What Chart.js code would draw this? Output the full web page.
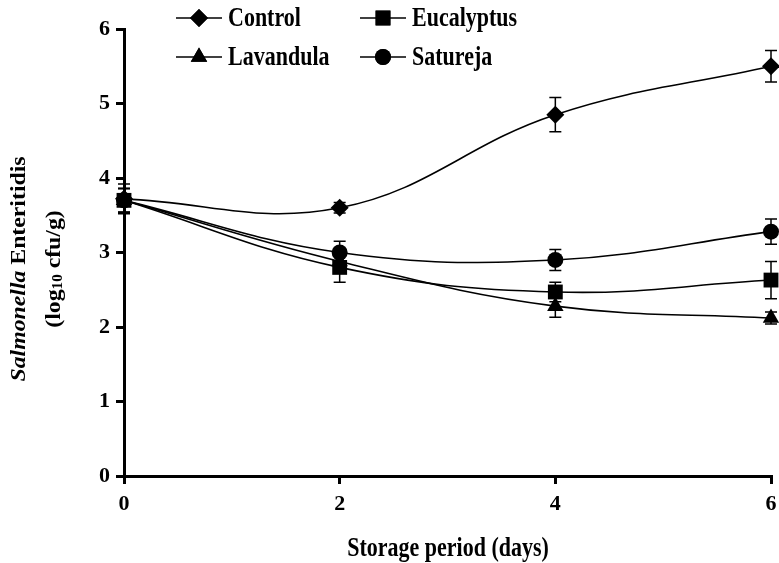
<!DOCTYPE html>
<html>
<head>
<meta charset="utf-8">
<script src="https://cdn.jsdelivr.net/npm/chart.js@4/dist/chart.umd.min.js"></script>
<style>
  html, body { margin: 0; padding: 0; background: #fff; }
  #wrap { width: 779px; height: 563px; position: relative; }
</style>
</head>
<body>
<div id="wrap"><canvas id="chart"></canvas></div>
<script>
// values
const days = [0, 2, 4, 6];
const seriesNames = ['Control', 'Eucalyptus', 'Lavandula', 'Satureja'];
const control = [3.72, 3.60, 4.85, 5.50];
const controlErr = [0.20, 0.07, 0.23, 0.21];
const eucalyptus = [3.70, 2.80, 2.47, 2.63];
const eucalyptusErr = [0.16, 0.20, 0.13, 0.25];
const lavandula = [3.70, 2.88, 2.28, 2.12];
const lavandulaErr = [0.16, 0.15, 0.15, 0.08];
const satureja = [3.70, 3.00, 2.90, 3.28];
const saturejaErr = [0.16, 0.15, 0.14, 0.17];
const xTicks = [0, 2, 4, 6];
const yTicks = [0, 1, 2, 3, 4, 5, 6];

const FONT = "'Liberation Serif', 'Times New Roman', serif";

function makeSet(label, values, errs, style, radius) {
  return {
    label: label,
    data: days.map((d, i) => ({ x: d, y: values[i] })),
    errors: errs,
    borderColor: '#000',
    backgroundColor: '#000',
    borderWidth: 1.6,
    pointStyle: style,
    pointRadius: radius,
    pointHoverRadius: radius,
    pointBorderWidth: 0,
    tension: 0.4,
    clip: false
  };
}

// error bars, drawn under the markers
const errorBars = {
  id: 'errorBars',
  beforeDatasetsDraw(chart) {
    const ctx = chart.ctx;
    const xs = chart.scales.x, ys = chart.scales.y;
    ctx.save();
    ctx.strokeStyle = '#000';
    ctx.lineWidth = 1.5;
    chart.data.datasets.forEach(ds => {
      ds.data.forEach((p, i) => {
        const e = ds.errors[i];
        const px = xs.getPixelForValue(p.x);
        const top = ys.getPixelForValue(p.y + e);
        const bot = ys.getPixelForValue(p.y - e);
        ctx.beginPath();
        ctx.moveTo(px, top); ctx.lineTo(px, bot);
        ctx.moveTo(px - 6, top); ctx.lineTo(px + 6, top);
        ctx.moveTo(px - 6, bot); ctx.lineTo(px + 6, bot);
        ctx.stroke();
      });
    });
    ctx.restore();
  }
};

function stretchedText(ctx, text, x, y, sy) {
  ctx.save();
  ctx.translate(x, y);
  ctx.scale(1, sy);
  ctx.fillText(text, 0, 0);
  ctx.restore();
}

// 2x2 legend inside the plot, axis titles
const decorations = {
  id: 'decorations',
  afterDraw(chart) {
    const ctx = chart.ctx;
    ctx.save();
    ctx.fillStyle = '#000';
    ctx.strokeStyle = '#000';

    const slots = [[176, 18], [360, 18], [176, 57], [360, 57]];
    chart.data.datasets.forEach((ds, i) => {
      const [lx, ly] = slots[i];
      ctx.lineWidth = 1.6;
      ctx.beginPath();
      ctx.moveTo(lx, ly); ctx.lineTo(lx + 46, ly);
      ctx.stroke();
      Chart.helpers.drawPoint(ctx, { pointStyle: ds.pointStyle, radius: ds.pointRadius, borderWidth: 0 }, lx + 23, ly);
      ctx.fill();
      ctx.font = 'bold 22px ' + FONT;
      ctx.textAlign = 'left';
      ctx.textBaseline = 'middle';
      stretchedText(ctx, ds.label, lx + 52, ly + 1, 1.2);
    });

    // x title
    ctx.font = 'bold 22px ' + FONT;
    ctx.textAlign = 'center';
    ctx.textBaseline = 'middle';
    stretchedText(ctx, 'Storage period (days)', 448, 549, 1.2);

    // y title, two rotated lines
    ctx.save();
    ctx.translate(19, 269);
    ctx.rotate(-Math.PI / 2);
    ctx.scale(1.08, 1);
    ctx.textBaseline = 'middle';
    ctx.textAlign = 'left';
    const italic = 'italic bold 22px ' + FONT;
    const bold = 'bold 22px ' + FONT;
    ctx.font = italic;
    const w1 = ctx.measureText('Salmonella').width;
    ctx.font = bold;
    const w2 = ctx.measureText(' Enteritidis').width;
    let sx = -(w1 + w2) / 2;
    ctx.font = italic; ctx.fillText('Salmonella', sx, 0);
    ctx.font = bold; ctx.fillText(' Enteritidis', sx + w1, 0);

    const small = 'bold 14px ' + FONT;
    ctx.font = bold;
    const a = ctx.measureText('(log').width;
    const c = ctx.measureText(' cfu/g)').width;
    ctx.font = small;
    const b = ctx.measureText('10').width;
    sx = -(a + b + c) / 2;
    ctx.font = bold; ctx.fillText('(log', sx, 35);
    ctx.font = small; ctx.fillText('10', sx + a, 39);
    ctx.font = bold; ctx.fillText(' cfu/g)', sx + a + b, 35);
    ctx.restore();

    ctx.restore();
  }
};

new Chart(document.getElementById('chart'), {
  type: 'line',
  data: {
    datasets: [
      makeSet(seriesNames[0], control, controlErr, 'rectRot', 9),
      makeSet(seriesNames[1], eucalyptus, eucalyptusErr, 'rect', 10.5),
      makeSet(seriesNames[2], lavandula, lavandulaErr, 'triangle', 9.5),
      makeSet(seriesNames[3], satureja, saturejaErr, 'circle', 8)
    ]
  },
  options: {
    responsive: true,
    maintainAspectRatio: false,
    animation: false,
    events: [],
    layout: { autoPadding: false, padding: { top: 29, right: 8, left: 0, bottom: 0 } },
    plugins: { legend: { display: false }, tooltip: { enabled: false } },
    scales: {
      x: {
        type: 'linear',
        min: 0, max: 6,
        afterBuildTicks: s => { s.ticks = xTicks.map(v => ({ value: v })); },
        afterFit: s => { s.height = 87; s.paddingLeft = 0; s.paddingRight = 0; },
        border: { color: '#000', width: 3 },
        grid: { drawOnChartArea: false, drawTicks: true, tickLength: 8, lineWidth: 3, color: '#000' },
        ticks: { color: '#000', padding: 7, font: { family: FONT, size: 22, weight: 'bold' } }
      },
      y: {
        min: 0, max: 6,
        afterBuildTicks: s => { s.ticks = yTicks.map(v => ({ value: v })); },
        afterFit: s => { s.width = 124; },
        border: { color: '#000', width: 3 },
        grid: { drawOnChartArea: false, drawTicks: true, tickLength: 8, lineWidth: 3, color: '#000' },
        ticks: { color: '#000', padding: 6, font: { family: FONT, size: 22, weight: 'bold' } }
      }
    }
  },
  plugins: [errorBars, decorations]
});
</script>
</body>
</html>
